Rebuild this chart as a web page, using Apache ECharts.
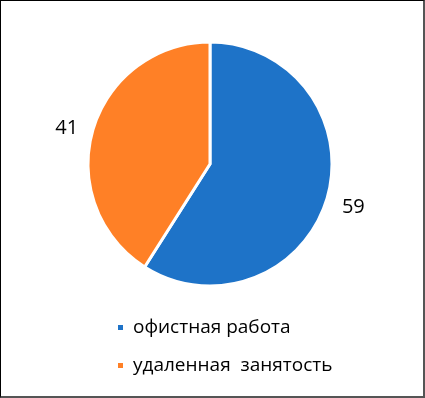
<!DOCTYPE html>
<html><head><meta charset="utf-8">
<script src="https://cdn.jsdelivr.net/npm/echarts@6/dist/echarts.min.js"></script>
<style>html,body{margin:0;padding:0;background:#fff}#c{width:425px;height:398px;box-sizing:border-box;border:1px solid #000;border-right:2px solid #555;border-bottom:2px solid #555}</style>
</head><body><div id="c"></div>
<script>
const categories = ['офистная работа', 'удаленная  занятость'];
const values = [59, 41];
const colors = ['#1E73C8', '#FF8026'];
const chart = echarts.init(document.getElementById('c'), null, {renderer:'canvas'});
chart.setOption({
  animation:false,
  legend:{
    orient:'vertical', left:110, top:312, itemGap:19,
    icon:'rect', itemWidth:7, itemHeight:7,
    textStyle:{fontFamily:'Open Sans', fontSize:19, color:'#000', padding:[0,0,0,4]},
    data:categories
  },
  series:[{
    type:'pie', center:[209,163], radius:[0,122], startAngle:90, clockwise:true,
    itemStyle:{borderColor:'#fff', borderWidth:3},
    label:{show:true, position:'outside', formatter:'{c}', fontFamily:'Open Sans', fontSize:20, color:'#000'},
    labelLine:{show:false, length:6, length2:4},
    emphasis:{disabled:true},
    data: categories.map((n,i)=>({name:n, value:values[i], itemStyle:{color:colors[i]},
      label: i===0 ? {formatter:'\n{c}', lineHeight:16} : {}}))
  }]
});
</script></body></html>
